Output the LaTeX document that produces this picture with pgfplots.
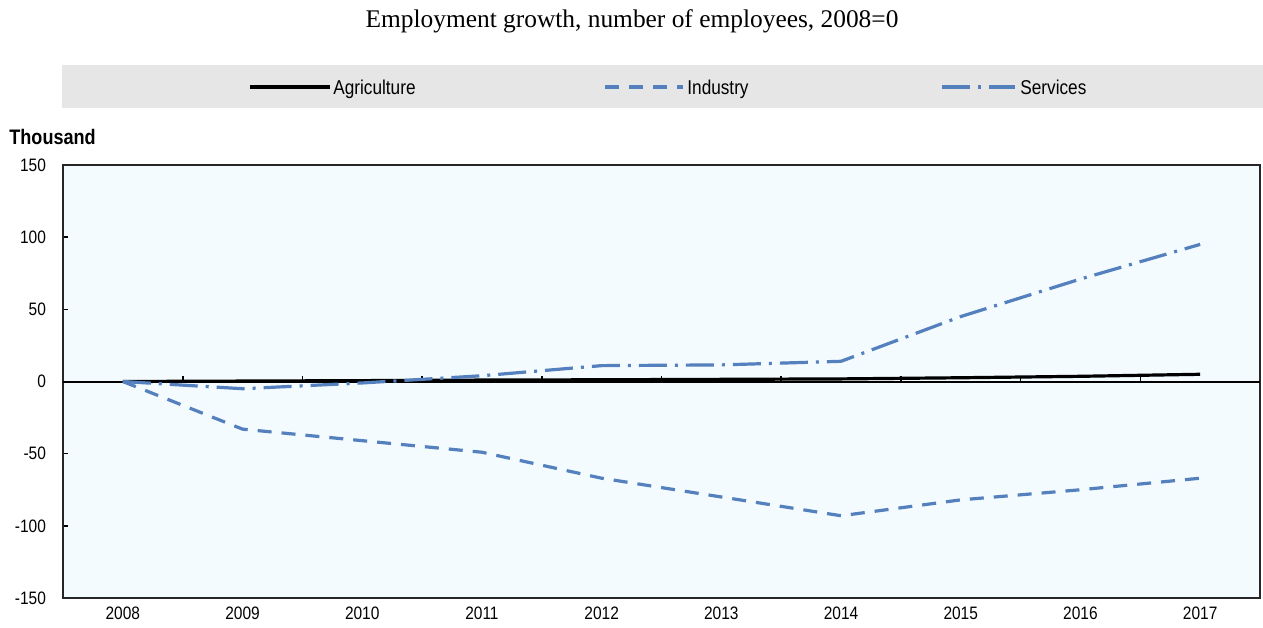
\documentclass[border=0pt]{standalone}
\usepackage{pgfplots}
\pgfplotsset{compat=1.18}
\usepackage{fontspec}
\setmainfont{Liberation Sans}[FakeStretch=0.86]
\newfontfamily\titlefont{Liberation Serif}
\definecolor{oecdblue}{RGB}{84,128,190}
\definecolor{plotbg}{RGB}{243,251,254}
\definecolor{legbg}{RGB}{230,230,230}
\begin{document}
\begin{tikzpicture}
\useasboundingbox (0pt,0pt) rectangle (631.5pt,-313.5pt);
% title
\node[font=\titlefont\fontsize{12.7}{14}\selectfont] at (316pt,-10.5pt) {Employment growth, number of employees, 2008=0};
% legend band
\fill[legbg] (31pt,-32.5pt) rectangle (631.5pt,-54pt);
\tikzset{legtext/.style={anchor=base west, inner sep=0pt, font=\fontsize{10}{12}\selectfont}}
\draw[black, line width=1.6pt] (125pt,-43.5pt) -- (165pt,-43.5pt);
\node[legtext] at (166.5pt,-47pt) {Agriculture};
\draw[oecdblue, line width=1.6pt, dash pattern=on 7pt off 5pt] (302.5pt,-43.5pt) -- (341.5pt,-43.5pt);
\node[legtext] at (343.5pt,-47pt) {Industry};
\draw[oecdblue, line width=1.6pt, dash pattern=on 14pt off 4pt on 1.5pt off 4pt] (471pt,-43.5pt) -- (507.5pt,-43.5pt);
\node[legtext] at (510pt,-47pt) {Services};
% unit label
\node[anchor=west, inner sep=0pt, font=\bfseries\fontsize{10.5}{12}\selectfont] at (4.5pt,-68.5pt) {Thousand};
\begin{axis}[
  at={(31.5pt,-299pt)}, anchor=south west,
  scale only axis, width=598.5pt, height=216.5pt,
  xmin=-0.5, xmax=9.5, ymin=-150, ymax=150,
  axis background/.style={fill=plotbg},
  axis line style={draw=black!85, line width=1pt},
  xtick={0,...,9},
  xticklabels={2008,2009,2010,2011,2012,2013,2014,2015,2016,2017},
  xtick style={draw=none},
  ytick={-150,-100,-50,0,50,100,150},
  ytick pos=left,
  ytick style={draw=black, line width=0.8pt},
  tick align=inside, major tick length=2.5pt,
  tick label style={font=\fontsize{9}{10}\selectfont},
  /pgf/number format/assume math mode=true,
  yticklabel style={xshift=-5pt},
  xticklabel style={yshift=-1pt},
  clip=false,
]
\draw[black, line width=1pt] (axis cs:-0.5,0) -- (axis cs:9.5,0);
\pgfplotsinvokeforeach{0.5,1.5,2.5,3.5,4.5,5.5,6.5,7.5,8.5}{
  \draw[black, line width=0.8pt] (axis cs:#1,0) -- ++(0pt,3pt);
}
\addplot[black, line width=1.6pt, mark=none] coordinates {
 (0,0) (1,0.3) (2,0.6) (3,1) (4,1.2) (5,1.5) (6,1.8) (7,2.6) (8,3.6) (9,5)};
\addplot[oecdblue, line width=1.6pt, mark=none, dash pattern=on 7pt off 5pt] coordinates {
 (0,0) (1,-33) (2,-41) (3,-49) (4,-67) (5,-80) (6,-93) (7,-82) (8,-75) (9,-67)};
\addplot[oecdblue, line width=1.6pt, mark=none, dash pattern=on 14pt off 4pt on 1.5pt off 4pt] coordinates {
 (0,0) (1,-5) (2,-1) (3,4) (4,11) (5,11.5) (6,14) (7,45) (8,71) (9,95)};
\end{axis}
\end{tikzpicture}
\end{document}
